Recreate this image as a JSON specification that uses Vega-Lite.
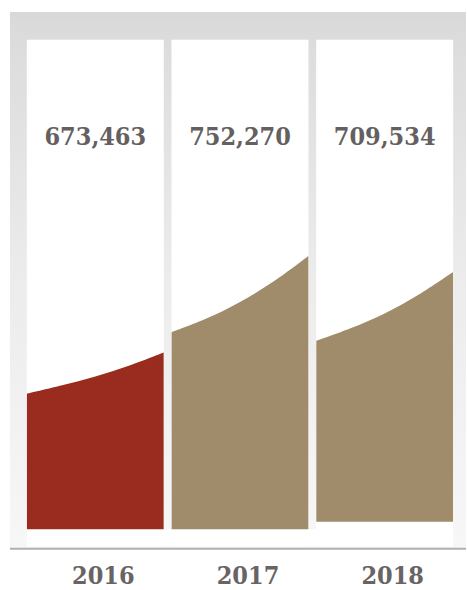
{
  "$schema": "https://vega.github.io/schema/vega-lite/v6.json",
  "width": 467,
  "height": 590,
  "autosize": {"type": "fit", "contains": "padding"},
  "padding": 0,
  "background": "#ffffff",
  "config": {"view": {"stroke": null}, "scale": {"continuousPadding": 0}},
  "datasets": {
    "totals": [
      {"year": 2016, "visitors": 673463},
      {"year": 2017, "visitors": 752270},
      {"year": 2018, "visitors": 709534}
    ],
    "curves": [
      {"year": 2016, "pos": 2015.5276, "level": 136.3},
      {"year": 2016, "pos": 2015.7638, "level": 144.5},
      {"year": 2016, "pos": 2016.0, "level": 153.6},
      {"year": 2016, "pos": 2016.2362, "level": 164.6},
      {"year": 2016, "pos": 2016.4724, "level": 177.7},
      {"year": 2017, "pos": 2016.5276, "level": 198},
      {"year": 2017, "pos": 2016.7638, "level": 211.5},
      {"year": 2017, "pos": 2017.0, "level": 228.5},
      {"year": 2017, "pos": 2017.2362, "level": 249.5},
      {"year": 2017, "pos": 2017.4724, "level": 274.7},
      {"year": 2018, "pos": 2017.5276, "level": 189.3},
      {"year": 2018, "pos": 2017.7638, "level": 202},
      {"year": 2018, "pos": 2018.0, "level": 217},
      {"year": 2018, "pos": 2018.2362, "level": 236},
      {"year": 2018, "pos": 2018.4724, "level": 258.7}
    ]
  },
  "layer": [
    {
      "data": {"values": [{}]},
      "mark": {
        "type": "rect",
        "fill": {
          "gradient": "linear", "x1": 0, "y1": 0, "x2": 0, "y2": 1,
          "stops": [
            {"offset": 0, "color": "#d8d8d8"},
            {"offset": 0.05, "color": "#dcdcdc"},
            {"offset": 0.5, "color": "#ececec"},
            {"offset": 1, "color": "#f7f7f7"}
          ]
        }
      },
      "encoding": {
        "x": {"datum": 2015.4103, "type": "quantitative", "scale": {"domain": [2015.34138, 2018.56207], "nice": false, "zero": false, "padding": 0}, "axis": null},
        "x2": {"datum": 2018.56207},
        "y": {"datum": 520, "type": "quantitative", "scale": {"domain": [-58, 532], "nice": false, "zero": false, "padding": 0}, "axis": null},
        "y2": {"datum": -19}
      }
    },
    {
      "data": {"values": [{}]},
      "mark": {"type": "rule", "color": "#b0b0b0", "strokeWidth": 2},
      "encoding": {
        "x": {"datum": 2015.4103, "type": "quantitative"},
        "x2": {"datum": 2018.56207},
        "y": {"datum": -19.5, "type": "quantitative"}
      }
    },
    {
      "data": {"name": "totals"},
      "mark": {"type": "bar", "width": 137, "color": "#ffffff"},
      "encoding": {
        "x": {"field": "year", "type": "quantitative"},
        "y": {"datum": 492, "type": "quantitative"},
        "y2": {"datum": -17}
      }
    },
    {
      "data": {"values": [{}]},
      "mark": {"type": "rect", "color": "#ffffff"},
      "encoding": {
        "x": {"datum": 2015.5276, "type": "quantitative"},
        "x2": {"datum": 2018.4724},
        "y": {"datum": 0, "type": "quantitative"},
        "y2": {"datum": -17}
      }
    },
    {
      "data": {"name": "curves"},
      "transform": [{"filter": "datum.year < 2018"}],
      "mark": {"type": "area", "interpolate": "catmull-rom", "opacity": 1},
      "encoding": {
        "x": {"field": "pos", "type": "quantitative"},
        "y": {"field": "level", "type": "quantitative"},
        "y2": {"datum": 0},
        "color": {"field": "year", "type": "nominal", "scale": {"domain": [2016, 2017, 2018], "range": ["#9a2c1f", "#a08b6a", "#a08b6a"]}, "legend": null}
      }
    },
    {
      "data": {"name": "curves"},
      "transform": [{"filter": "datum.year == 2018"}],
      "mark": {"type": "area", "interpolate": "catmull-rom", "opacity": 1},
      "encoding": {
        "x": {"field": "pos", "type": "quantitative"},
        "y": {"field": "level", "type": "quantitative"},
        "y2": {"datum": 7.5},
        "color": {"field": "year", "type": "nominal", "scale": {"domain": [2016, 2017, 2018], "range": ["#9a2c1f", "#a08b6a", "#a08b6a"]}, "legend": null}
      }
    },
    {
      "data": {"name": "totals"},
      "mark": {"type": "text", "font": "DejaVu Serif Condensed, DejaVu Serif", "fontWeight": "bold", "fontSize": 25, "color": "#646060", "baseline": "alphabetic", "align": "center"},
      "encoding": {
        "x": {"field": "year", "type": "quantitative"},
        "y": {"datum": 386, "type": "quantitative"},
        "text": {"field": "visitors", "type": "quantitative", "format": ","}
      }
    },
    {
      "data": {"name": "totals"},
      "mark": {"type": "text", "font": "DejaVu Serif Condensed, DejaVu Serif", "fontWeight": "bold", "fontSize": 25, "color": "#686464", "baseline": "alphabetic", "align": "center", "dx": 8},
      "encoding": {
        "x": {"field": "year", "type": "quantitative"},
        "y": {"datum": -55.3, "type": "quantitative"},
        "text": {"field": "year", "type": "nominal"}
      }
    }
  ]
}
